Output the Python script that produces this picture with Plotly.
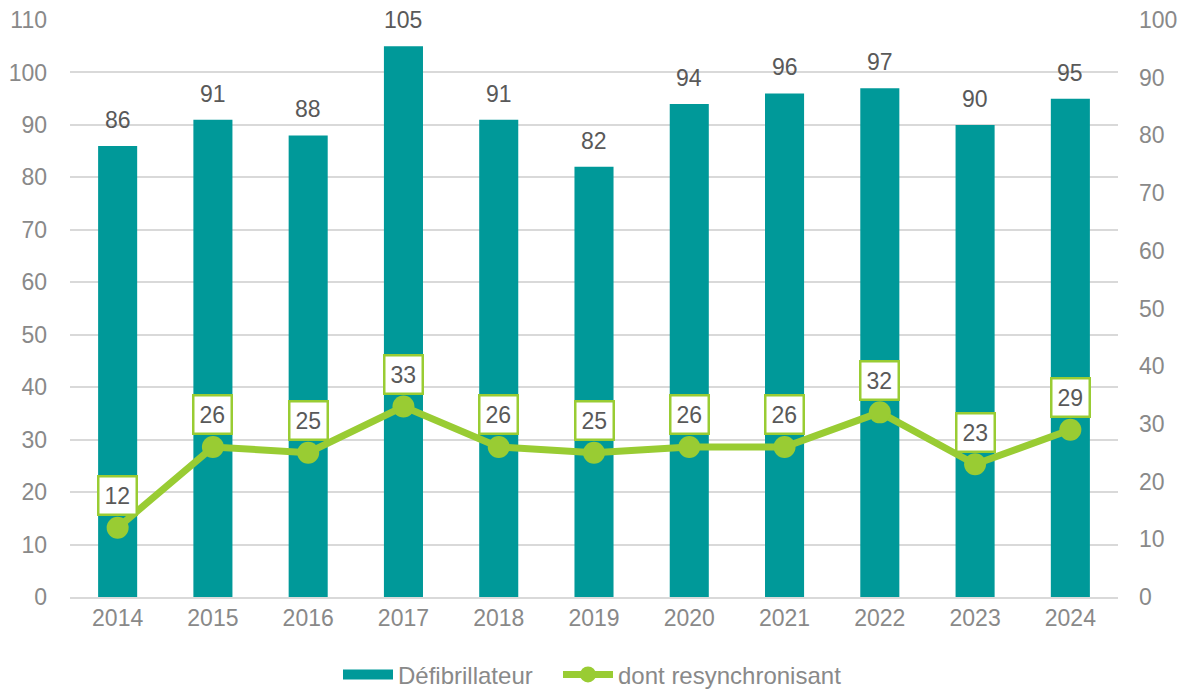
import plotly.graph_objects as go

years = ["2014", "2015", "2016", "2017", "2018", "2019", "2020", "2021", "2022", "2023", "2024"]
defib = [86, 91, 88, 105, 91, 82, 94, 96, 97, 90, 95]
resync = [12, 26, 25, 33, 26, 25, 26, 26, 32, 23, 29]

TEAL = "#009999"
GREEN = "#99CC33"
TICK = "#898989"
LABEL = "#595959"
FONT = "Liberation Sans, Arial, sans-serif"

fig = go.Figure()
fig.add_trace(go.Bar(
    x=years, y=defib, name="Défibrillateur", showlegend=False,
    marker=dict(color=TEAL, line=dict(width=0)),
    width=0.41,
))
# legend key drawn as a wide flat swatch for the bars
fig.add_trace(go.Scatter(
    x=[None], y=[None], name="Défibrillateur", mode="lines",
    line=dict(color=TEAL, width=13), legend="legend",
))
fig.add_trace(go.Scatter(
    x=years, y=resync, name="dont resynchronisant", yaxis="y2",
    mode="lines+markers",
    line=dict(color=GREEN, width=7),
    marker=dict(color=GREEN, size=22),
    legend="legend2",
))

# on a category axis, annotation x is the category index
annotations = []
for i, v in enumerate(defib):
    annotations.append(dict(
        x=i, y=v, xref="x", yref="y", text=str(v), showarrow=False,
        yanchor="bottom", yshift=11,
        font=dict(family=FONT, size=23, color=LABEL),
    ))
for i, v in enumerate(resync):
    annotations.append(dict(
        x=i, y=v, xref="x", yref="y2", text=str(v), showarrow=False,
        yanchor="middle", yshift=32,
        font=dict(family=FONT, size=23, color=LABEL),
        bgcolor="white", bordercolor=GREEN, borderwidth=2.5, borderpad=5,
    ))

legend_common = dict(orientation="h", xanchor="left", xref="container",
                     y=0.022, yanchor="middle", yref="container",
                     font=dict(family=FONT, size=24, color=TICK), itemwidth=50)

fig.update_layout(
    width=1188, height=690,
    margin=dict(l=70, r=70, t=20, b=93),
    paper_bgcolor="white", plot_bgcolor="white",
    font=dict(family=FONT, size=23, color=TICK),
    showlegend=True,
    legend=dict(x=338 / 1188, **legend_common),
    legend2=dict(x=558 / 1188, **legend_common),
    xaxis=dict(type="category", range=[-0.5, len(years) - 0.5], showgrid=False,
               showline=True, linecolor="#D9D9D9", linewidth=1.5, ticks="",
               automargin=False, tickfont=dict(size=23, color=TICK)),
    yaxis=dict(range=[0, 110], dtick=10, showgrid=True, gridcolor="#D9D9D9", gridwidth=1.5,
               zeroline=False, ticks="", ticklabelstandoff=22, automargin=False,
               tickfont=dict(size=23, color=TICK)),
    yaxis2=dict(range=[0, 100], dtick=10, overlaying="y", side="right", showgrid=False,
                zeroline=False, ticks="", ticklabelstandoff=20, automargin=False,
                tickfont=dict(size=23, color=TICK)),
    annotations=annotations,
)

fig.write_html("out.html")
